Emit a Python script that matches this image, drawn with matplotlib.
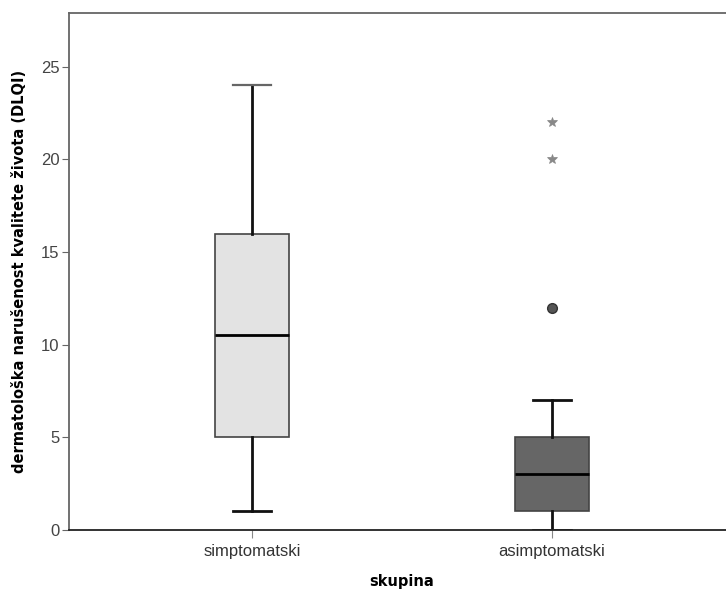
import matplotlib
matplotlib.use("Agg")
import matplotlib.pyplot as plt

# podatki odčitani s slike
skupine = ["simptomatski", "asimptomatski"]
spodnji_brk = [1, 0]
q1 = [5, 1]
mediana = [10.5, 3]
q3 = [16, 5]
zgornji_brk = [24, 7]
osamelci = [[], [12]]        # krogci
ekstremi = [[], [20, 22]]    # zvezdice
barve = ["#e3e3e3", "#666666"]

fig = plt.figure(figsize=(7.26, 5.92), dpi=100)
ax = fig.add_axes([69 / 726, 1 - 530 / 592, 666 / 726, 517 / 592])

stats = []
for i, ime in enumerate(skupine):
    stats.append({"label": ime, "whislo": spodnji_brk[i], "q1": q1[i],
                  "med": mediana[i], "q3": q3[i], "whishi": zgornji_brk[i],
                  "fliers": []})

pozicije = [1, 2]
bp = ax.bxp(stats, positions=pozicije, widths=0.247, patch_artist=True,
            showfliers=False,
            boxprops=dict(edgecolor="#444444", linewidth=1.2),
            medianprops=dict(color="black", linewidth=2),
            whiskerprops=dict(color="#111111", linewidth=2),
            capprops=dict(color="#111111", linewidth=2),
            capwidths=0.125)
for patch, c in zip(bp["boxes"], barve):
    patch.set_facecolor(c)
bp["caps"][1].set_color("#666666")
bp["caps"][1].set_linewidth(1.6)

for x, vals in zip(pozicije, osamelci):
    if vals:
        ax.plot([x] * len(vals), vals, "o", markersize=7,
                markerfacecolor="#555555", markeredgecolor="#333333",
                markeredgewidth=1)
for x, vals in zip(pozicije, ekstremi):
    if vals:
        ax.plot([x] * len(vals), vals, "*", markersize=7.5,
                color="#888888", markeredgewidth=0.5)

ax.set_xlim(0.39, 2.61)
ax.set_ylim(0, 27.9)
ax.set_yticks([0, 5, 10, 15, 20, 25])
ax.set_xticks(pozicije)
ax.set_xticklabels(skupine)

for s in ["left", "top"]:
    ax.spines[s].set_color("#666666")
    ax.spines[s].set_linewidth(1.3)
ax.spines["bottom"].set_color("#222222")
ax.spines["bottom"].set_linewidth(1.3)
ax.spines["right"].set_visible(False)

ax.tick_params(axis="y", direction="out", length=5, color="#666666",
               labelcolor="#444444", labelsize=12, pad=2)
ax.tick_params(axis="x", direction="out", length=6, color="#888888",
               labelcolor="#333333", labelsize=12, pad=4)
for t in ax.get_xticklabels() + ax.get_yticklabels():
    t.set_family("Liberation Sans")

ax.set_xlabel("skupina", fontsize=10.5, fontweight="bold", labelpad=11)
ax.set_ylabel("dermatološka narušenost kvalitete života (DLQI)",
              fontsize=10.5, fontweight="bold", labelpad=10)

fig.savefig("out.png", dpi=100)
